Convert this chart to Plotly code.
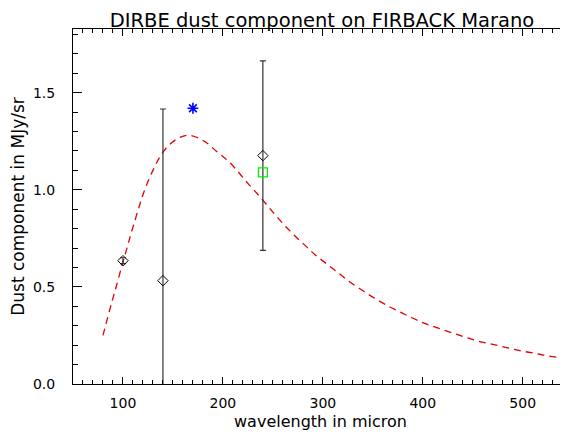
import plotly.graph_objects as go

# measured points (wavelength in micron, MJy/sr)
point_wl = [100, 140, 240]
point_val = [0.635, 0.532, 1.176]
point_err = [0.015, 0.884, 0.488]

star_wl = [170]
star_val = [1.42]

square_wl = [240]
square_val = [1.09]

# dust model curve
curve_wl = [80, 83, 89, 93, 99, 104, 107, 111, 116, 119, 124, 130, 137, 146, 157, 167,
            182, 194, 206, 216, 225, 234, 244, 253, 263, 273, 283, 293, 304, 316, 327,
            339, 351, 363, 376, 389, 402, 414, 429, 442, 456, 470, 484, 498, 512, 526,
            541, 550]
curve_val = [0.25, 0.31, 0.425, 0.497, 0.61, 0.70, 0.755, 0.825, 0.91, 0.96, 1.03, 1.10,
             1.17, 1.23, 1.27, 1.28, 1.248, 1.196, 1.145, 1.088, 1.033, 0.982, 0.922,
             0.867, 0.81, 0.758, 0.71, 0.662, 0.618, 0.57, 0.525, 0.484, 0.444, 0.408,
             0.374, 0.341, 0.312, 0.29, 0.264, 0.242, 0.22, 0.204, 0.187, 0.171, 0.158,
             0.144, 0.134, 0.128]

FONT = "DejaVu Sans"
# page body has an 8px margin, so the figure is drawn 8px smaller
W, H = 560, 433

fig = go.Figure()

fig.add_trace(go.Scatter(x=curve_wl, y=curve_val, mode="lines",
                         line=dict(color="#e00000", width=1.3, dash="7px,5px", shape="spline"),
                         showlegend=False))

fig.add_trace(go.Scatter(x=point_wl, y=point_val, mode="markers",
                         marker=dict(symbol="diamond-open", size=8, color="black",
                                     line=dict(width=1, color="black")),
                         error_y=dict(type="data", array=point_err, visible=True,
                                      color="#333333", thickness=1.2, width=3),
                         showlegend=False))

fig.add_trace(go.Scatter(x=star_wl, y=star_val, mode="markers",
                         marker=dict(symbol="asterisk-open", size=9, color="blue",
                                     line=dict(width=1.6, color="blue")),
                         showlegend=False))

fig.add_trace(go.Scatter(x=square_wl, y=square_val, mode="markers",
                         marker=dict(symbol="square-open", size=9, color="#00ee00",
                                     line=dict(width=1.2, color="#00ee00")),
                         showlegend=False))

fig.update_xaxes(range=[50, 545.3], automargin=False, showline=True, linecolor="black", linewidth=1,
                 mirror="ticks", showgrid=False, zeroline=False,
                 ticks="inside", ticklen=7, tickcolor="black", tickwidth=1,
                 tickvals=[100, 200, 300, 400, 500], ticklabelstandoff=6,
                 minor=dict(dtick=10, ticks="inside", ticklen=4, tickcolor="black", tickwidth=1),
                 tickfont=dict(family=FONT, size=14, color="black"),
                 title=dict(text="wavelength in micron", standoff=6,
                            font=dict(family=FONT, size=16, color="black")))

fig.update_yaxes(range=[0, 1.828], automargin=False, showline=True, linecolor="black", linewidth=1,
                 mirror=False, showgrid=False, zeroline=False,
                 ticks="inside", ticklen=9, tickcolor="black", tickwidth=1,
                 tickvals=[0, 0.5, 1.0, 1.5], tickformat=".1f", ticklabelstandoff=14,
                 minor=dict(dtick=0.1, ticks="inside", ticklen=5, tickcolor="black", tickwidth=1),
                 tickfont=dict(family=FONT, size=14, color="black"),
                 title=dict(text="Dust component in MJy/sr", standoff=5,
                            font=dict(family=FONT, size=17, color="black")))

fig.update_layout(width=W, height=H, autosize=False,
                  paper_bgcolor="white", plot_bgcolor="white",
                  margin=dict(l=65, r=0, t=21, b=57, pad=0),
                  title=dict(text="DIRBE dust component on FIRBACK Marano",
                             xref="container", x=314/W, xanchor="center",
                             yref="container", y=1 - 5/H, yanchor="top",
                             pad=dict(t=0, b=0),
                             font=dict(family=FONT, size=19.5, color="black")))

fig.write_html("out.html")
